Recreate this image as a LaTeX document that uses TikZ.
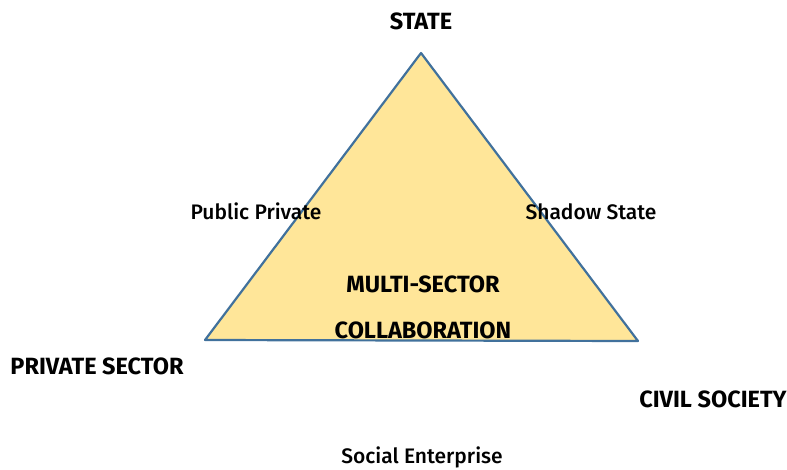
\documentclass[tikz,border=0pt]{standalone}
\usepackage{fontspec}
\setmainfont{Fira Sans}[UprightFont=* Medium, BoldFont=* Bold]
\usetikzlibrary{positioning}
\definecolor{triFill}{HTML}{FFE699}
\definecolor{triEdge}{HTML}{41719C}

\begin{document}
\begin{tikzpicture}[x=1pt, y=-1pt,
        lbl/.style = {inner sep=0pt, anchor=base, font=\fontsize{21}{25}\selectfont},
        blbl/.style = {lbl, font=\fontsize{23.5}{28}\selectfont\bfseries},
        ]
        \useasboundingbox (0,0) rectangle (787,469);
        \coordinate (top) at (421,53);
        \coordinate (left) at (205,340);
        \coordinate (right) at (638,341);
        \draw[triEdge, line width=2.2pt, fill=triFill, line join=round] (top) -- (left) -- (right) -- cycle;
        \node[blbl](state) at (421,29) {STATE};
        \node[lbl](pubpriv) at (256,219) {Public Private};
        \node[lbl](shadow) at (591,219) {Shadow State};
        \node[blbl](multi) at (423,292) {MULTI-SECTOR};
        \node[blbl](collab) at (423,338) {COLLABORATION};
        \node[blbl](private) at (97,374) {PRIVATE SECTOR};
        \node[blbl](civil) at (713,407) {CIVIL SOCIETY};
        \node[lbl](social) at (422,463) {Social Enterprise};
        \end{tikzpicture}
\end{document}
